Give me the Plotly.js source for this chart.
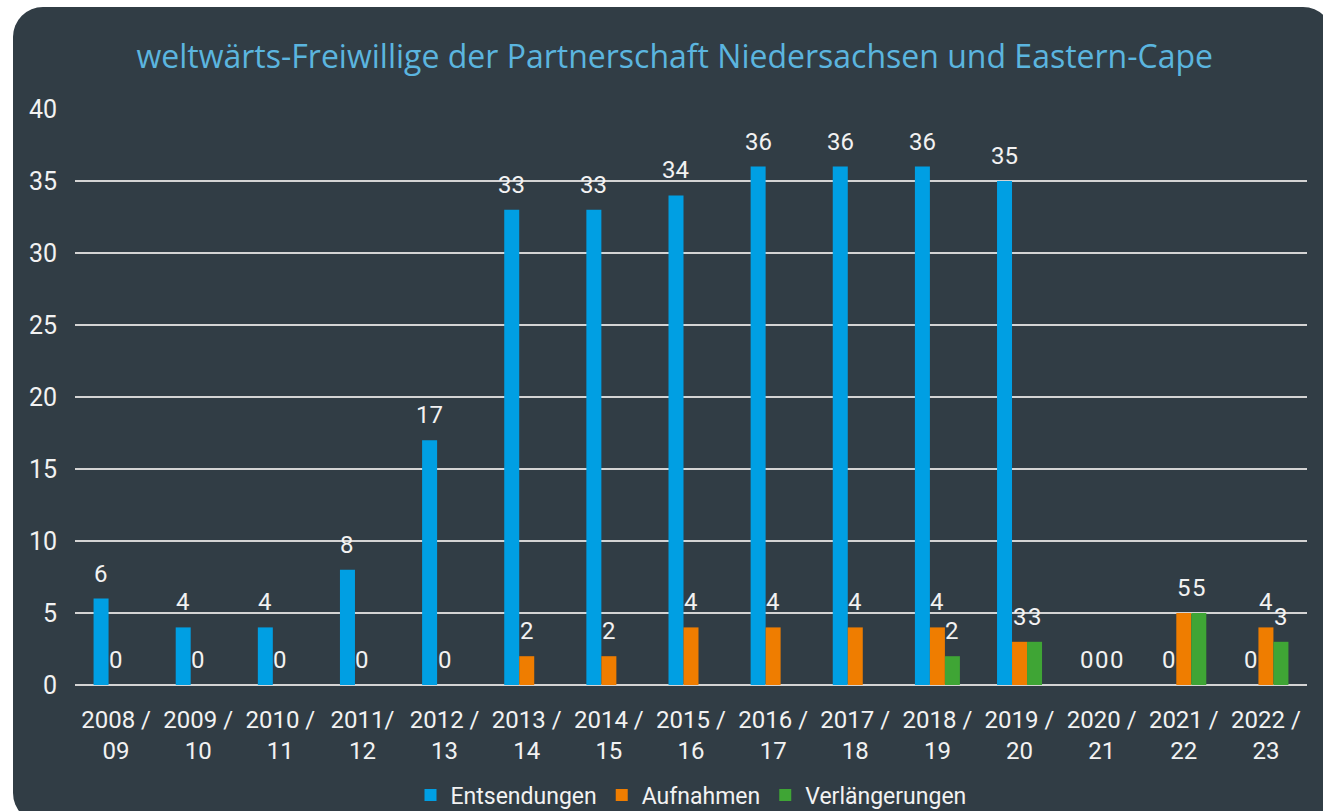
<!DOCTYPE html>
<html>
<head>
<meta charset="utf-8">
<script src="https://cdn.plot.ly/plotly-3.0.1.min.js"></script>
<style>
html,body{margin:0;padding:0;background:#ffffff;width:1323px;height:811px;overflow:hidden;}
#card{position:absolute;left:13px;top:7px;width:1320px;height:816px;background:#313d45;border-radius:30px;}
#chart{position:absolute;left:0;top:0;width:1323px;height:811px;}
</style>
</head>
<body>
<div id="card"></div>
<div id="chart"></div>
<script>
const categories = ["2008 /<br>09","2009 /<br>10","2010 /<br>11","2011/<br>12","2012 /<br>13","2013 /<br>14","2014 /<br>15","2015 /<br>16","2016 /<br>17","2017 /<br>18","2018 /<br>19","2019 /<br>20","2020 /<br>21","2021 /<br>22","2022 /<br>23"];
const entsendungen = [6,4,4,8,17,33,33,34,36,36,36,35,0,0,0];
const aufnahmen = [0,0,0,0,0,2,2,4,4,4,4,3,0,5,4];
const verlaengerungen = [null,null,null,null,null,null,null,null,null,null,2,3,0,5,3];
const seriesNames = ["Entsendungen","Aufnahmen","Verlängerungen"];
const seriesColors = ["#009fe3","#ef7d00","#3fa535"];
const yTicks = [0,5,10,15,20,25,30,35,40];

const FONT = "Roboto, 'Liberation Sans Narrow', 'Arial Narrow', sans-serif";
const W = 1323, H = 811;
const margin = {l:75, r:16, t:109, b:126, autoexpand:false};
const bargap = 0.452;

const allSeries = [entsendungen, aufnahmen, verlaengerungen];
const traces = allSeries.map((vals, i) => ({
  type: 'bar',
  name: seriesNames[i],
  x: categories,
  y: vals,
  marker: {color: seriesColors[i]},
  hoverinfo: 'none'
}));

const band = (W - margin.l - margin.r) / categories.length;
const barPx = band * (1 - bargap) / 3;
const annotations = [];
allSeries.forEach((vals, i) => {
  vals.forEach((v, j) => {
    if (v === null) return;
    annotations.push({
      x: categories[j], y: v, xref: 'x', yref: 'y',
      text: String(v), showarrow: false,
      xanchor: 'center', yanchor: 'bottom',
      xshift: (i - 1) * barPx, yshift: 9,
      font: {family: FONT, size: 24, color: '#f2f2f2'}
    });
  });
});

const layout = {
  width: W, height: H,
  paper_bgcolor: 'rgba(0,0,0,0)',
  plot_bgcolor: 'rgba(0,0,0,0)',
  margin: margin,
  barmode: 'group',
  bargap: bargap,
  bargroupgap: 0,
  title: {
    text: 'weltwärts-Freiwillige der Partnerschaft Niedersachsen und Eastern-Cape',
    x: 0.51, xanchor: 'center', y: 0.93, yanchor: 'middle',
    font: {family: "'Open Sans', 'Noto Sans', sans-serif", size: 32, color: '#5bb5df', weight: 400}
  },
  xaxis: {
    type: 'category',
    tickfont: {family: FONT, size: 24, color: '#f2f2f2'},
    showgrid: false, zeroline: false, showline: false,
    ticks: '', ticklabelstandoff: 18,
    fixedrange: true
  },
  yaxis: {
    range: [0, 40],
    tickvals: yTicks,
    ticktext: yTicks.map(String),
    tickfont: {family: FONT, size: 25, color: '#f2f2f2'},
    showgrid: true, gridcolor: '#d4d4d4', gridwidth: 2,
    zeroline: true, zerolinecolor: '#d4d4d4', zerolinewidth: 2,
    showline: false, ticks: '', ticklabelstandoff: 17,
    fixedrange: true
  },
  showlegend: true,
  legend: {
    orientation: 'h', x: 0.5, xanchor: 'center', y: -0.191, yanchor: 'middle',
    font: {family: FONT, size: 23, color: '#f2f2f2'},
    itemwidth: 30, traceorder: 'normal',
    bgcolor: 'rgba(0,0,0,0)'
  },
  annotations: annotations
};

Plotly.newPlot('chart', traces, layout, {displayModeBar: false, staticPlot: true});
</script>
</body>
</html>
